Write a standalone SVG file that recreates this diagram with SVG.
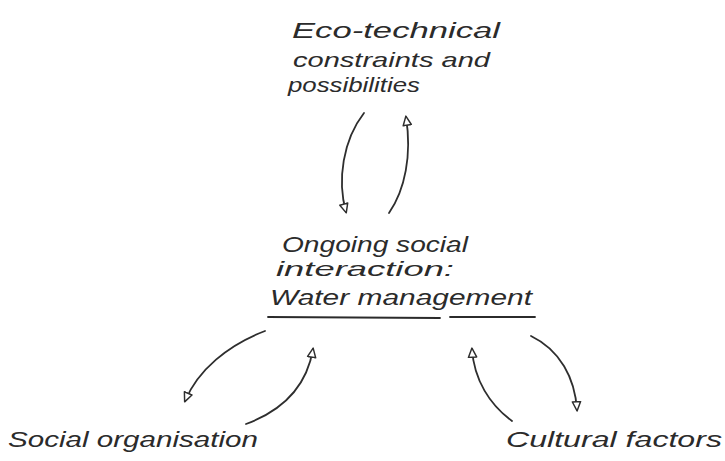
<svg xmlns="http://www.w3.org/2000/svg" width="725" height="461" viewBox="0 0 725 461">
  <style>
    .lbl { font-family: "Liberation Sans", "DejaVu Sans", sans-serif; font-style: italic; font-size: 21px; fill: #2b2b2b; }
    .big { font-size: 22px; }
    .link { fill: none; stroke: #2e2e2e; stroke-width: 1.8; stroke-linecap: round; }
    .ul { stroke: #2b2b2b; stroke-width: 1.8; stroke-linecap: round; }
  </style>
  <defs>
    <marker id="tri" viewBox="0 0 12 12" refX="10" refY="6" markerWidth="11" markerHeight="11" markerUnits="userSpaceOnUse" orient="auto">
      <path d="M1,1.5 L11,6 L1,10.5 Z" fill="#ffffff" stroke="#2e2e2e" stroke-width="1.6" stroke-linejoin="round"/>
    </marker>
  </defs>
  <rect width="725" height="461" fill="#ffffff"/>

  <g id="eco-technical">
    <text class="lbl big" x="292" y="38" textLength="208" lengthAdjust="spacingAndGlyphs">Eco-technical</text>
    <text class="lbl" x="293" y="67" textLength="197" lengthAdjust="spacingAndGlyphs">constraints and</text>
    <text class="lbl" x="288" y="92" textLength="132" lengthAdjust="spacingAndGlyphs">possibilities</text>
  </g>

  <g id="water-management">
    <text class="lbl big" x="282" y="252" textLength="186" lengthAdjust="spacingAndGlyphs">Ongoing social</text>
    <text class="lbl" x="276" y="276" textLength="178" lengthAdjust="spacingAndGlyphs">interaction:</text>
    <text class="lbl big" x="270" y="305" textLength="262" lengthAdjust="spacingAndGlyphs">Water management</text>
    <line class="ul" x1="268" y1="317" x2="440" y2="318"/>
    <line class="ul" x1="450" y1="317" x2="535" y2="317"/>
  </g>

  <g id="social-organisation">
    <text class="lbl big" x="8" y="447" textLength="250" lengthAdjust="spacingAndGlyphs">Social organisation</text>
  </g>

  <g id="cultural-factors">
    <text class="lbl big" x="506" y="447" textLength="216" lengthAdjust="spacingAndGlyphs">Cultural factors</text>
  </g>

  <g id="connectors">
    <path class="link" d="M364,113 C343,140 337,180 346,212" marker-end="url(#tri)"/>
    <path class="link" d="M389,213 C405,190 412,155 406,117" marker-end="url(#tri)"/>
    <path class="link" d="M265,331 C228,345 198,370 185,401" marker-end="url(#tri)"/>
    <path class="link" d="M246,424 C284,410 307,385 313,349" marker-end="url(#tri)"/>
    <path class="link" d="M512,421 C490,405 474,380 472,349" marker-end="url(#tri)"/>
    <path class="link" d="M531,336 C560,350 575,378 577,410" marker-end="url(#tri)"/>
  </g>
</svg>
